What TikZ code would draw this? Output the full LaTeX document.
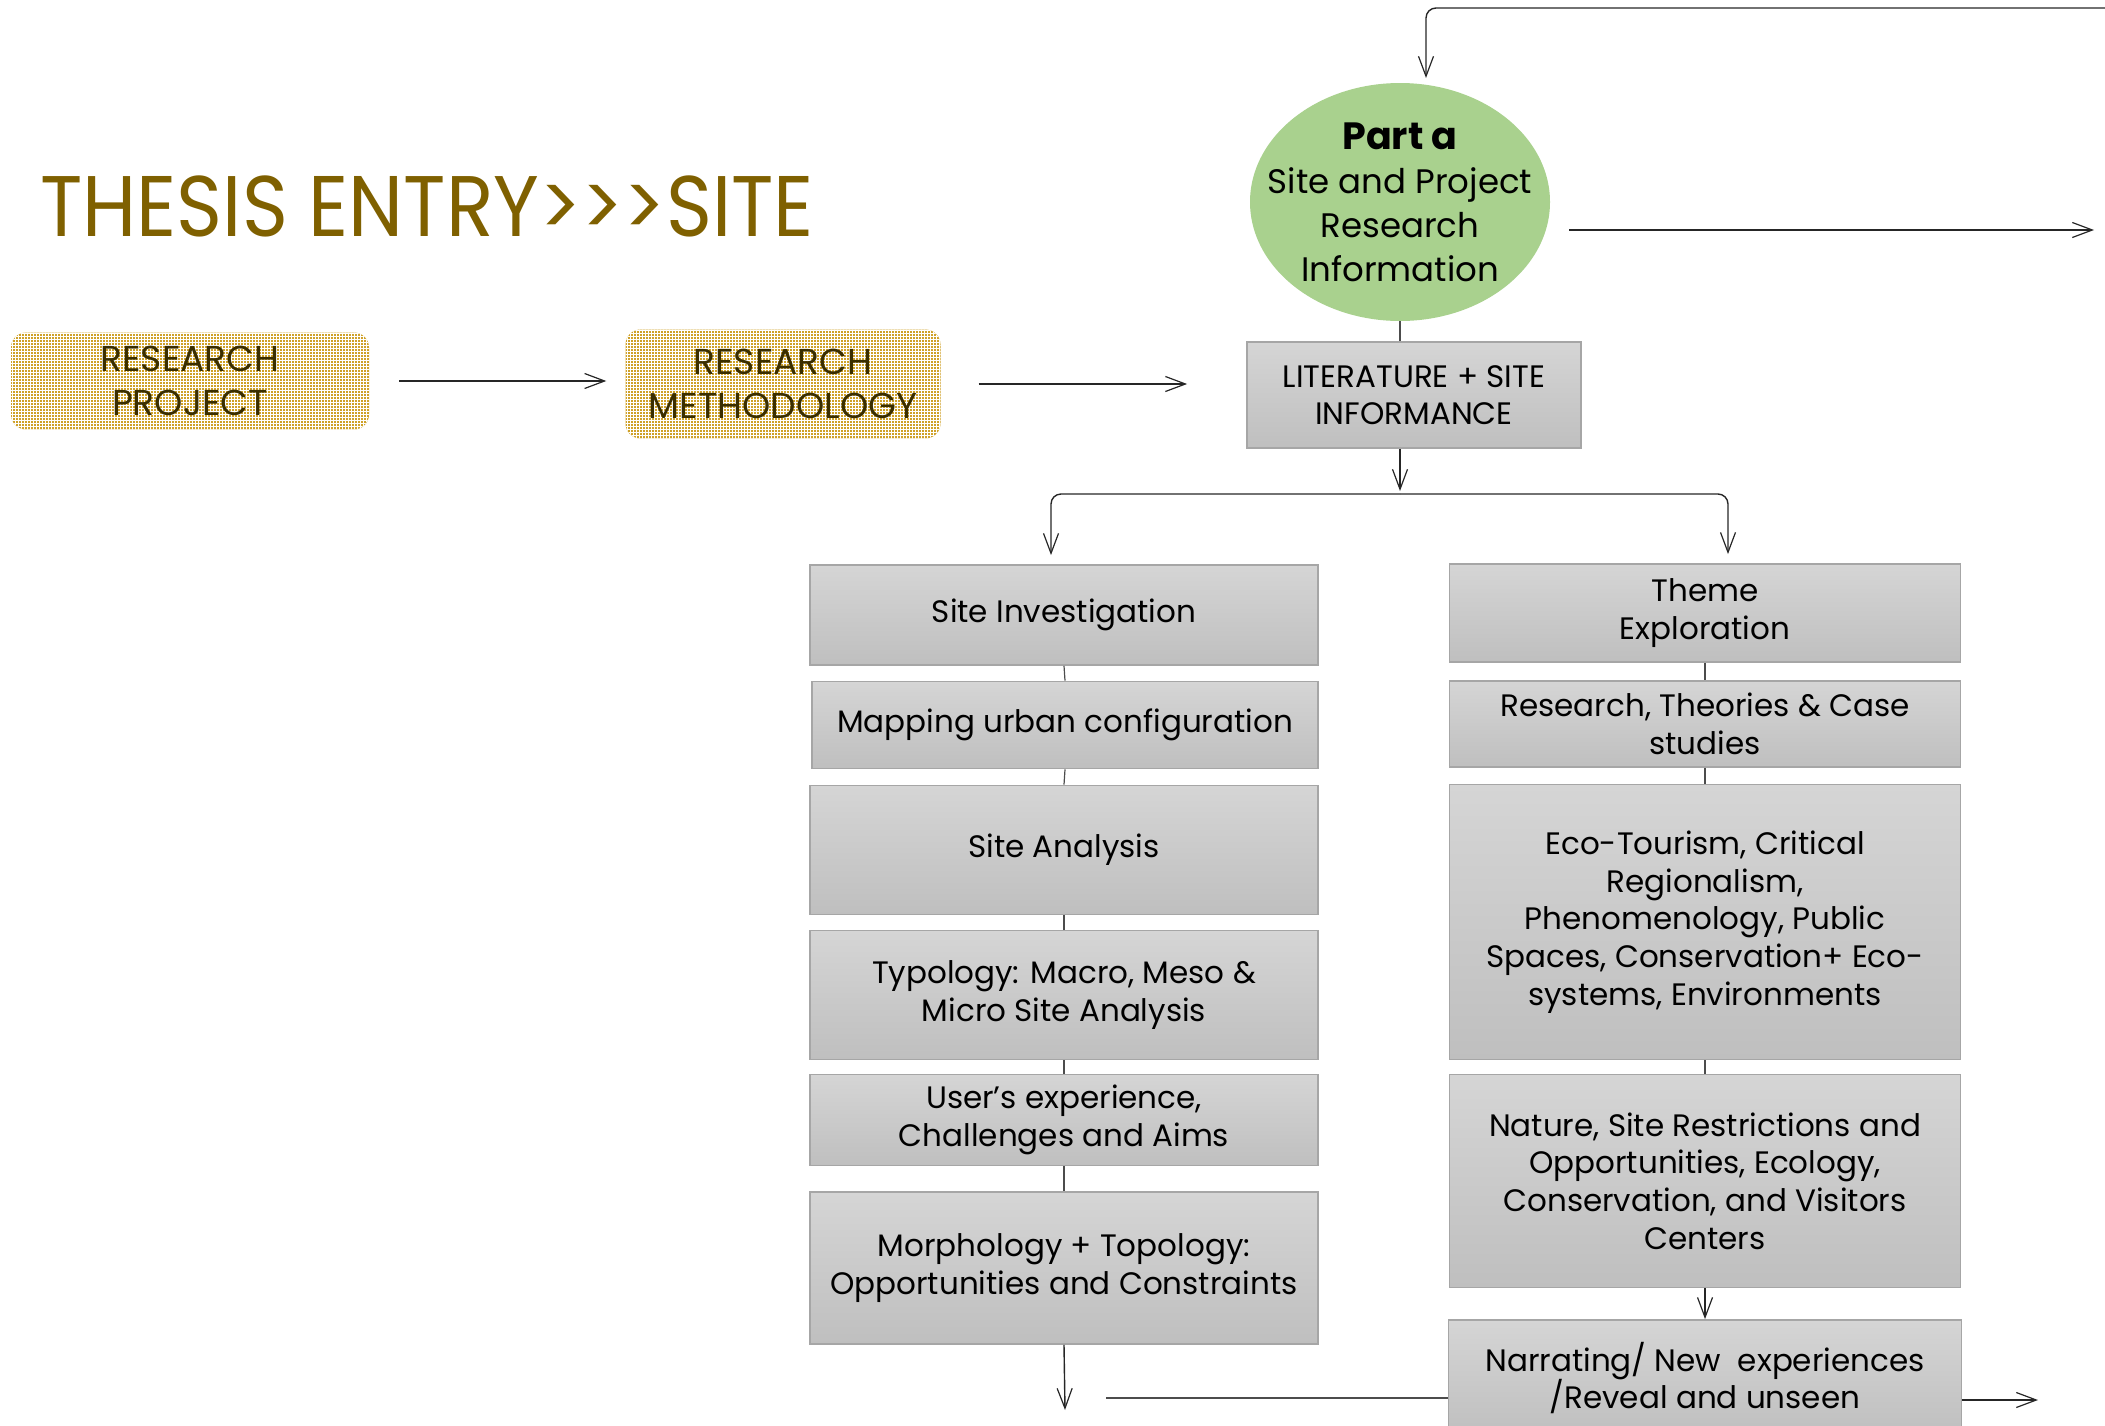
\documentclass[tikz,border=0pt]{standalone}
\usepackage{fontspec}
\setmainfont{Poppins}[Ligatures=TeXOff]
\newfontfamily\titlefont{Poppins}[Ligatures=TeXOff,FakeStretch=0.91]
\usetikzlibrary{arrows.meta,patterns,shapes.geometric}
\definecolor{titlebrown}{HTML}{7F6000}
\definecolor{partgreen}{HTML}{A9D18E}
\definecolor{boxtop}{HTML}{D5D5D5}
\definecolor{boxbot}{HTML}{BFBFBF}
\definecolor{boxline}{HTML}{A6A6A6}
\definecolor{resgold}{HTML}{CFA128}
\definecolor{restext}{HTML}{3A2E00}
\begin{document}
\begin{tikzpicture}[x=1pt,y=-1pt,
  flow/.style={draw=black!85,line width=1.4pt,-{Straight Barb[length=20pt,width=15pt,line width=1.2pt]}},
  link/.style={draw=black!70,line width=1.2pt},
  graybox/.style={draw=boxline,line width=1.8pt,top color=boxtop,bottom color=boxbot,align=center,inner sep=0pt,font=\fontsize{31}{37.6}\selectfont},
  resbox/.style={rounded corners=15pt,preaction={fill=resgold},pattern=grid,pattern color=white,align=center,inner sep=0pt,text=restext,font=\fontsize{36}{44}\selectfont}]
\useasboundingbox (0,0) rectangle (2105,1425);

\node[anchor=base west,inner sep=0pt,text=titlebrown,font=\titlefont\fontsize{86}{94}\selectfont] (title) at (40,236) {THESIS ENTRY>>>SITE};

\node[resbox,minimum width=358,minimum height=97] (rp) at (190,381) {RESEARCH\\PROJECT};
\node[resbox,minimum width=315,minimum height=109] (rm) at (783,384) {RESEARCH\\METHODOLOGY};

\node[ellipse,fill=partgreen,minimum width=300,minimum height=238,inner sep=0pt] (part) at (1400,202) {};
\node[align=center,inner sep=0pt,font=\fontsize{34}{44}\selectfont] (parttext) at (part) {{\bfseries\fontsize{38}{46}\selectfont Part a}\\Site and Project\\Research\\Information};
\node[graybox,minimum width=334,minimum height=106] (lit) at (1414,395) {LITERATURE + SITE\\INFORMANCE};

\node[graybox,minimum width=508,minimum height=100] (site) at (1064,615) {Site Investigation};
\node[graybox,minimum width=506,minimum height=87] (map) at (1065,725) {Mapping urban configuration};
\node[graybox,minimum width=508,minimum height=129] (anal) at (1064,850) {Site Analysis};
\node[graybox,minimum width=508,minimum height=129] (typo) at (1064,995) {Typology: Macro, Meso \&\\Micro Site Analysis};
\node[graybox,minimum width=508,minimum height=91] (user) at (1064,1120) {User’s experience,\\Challenges and Aims};
\node[graybox,minimum width=508,minimum height=152] (morph) at (1064,1268) {Morphology + Topology:\\Opportunities and Constraints};

\node[graybox,minimum width=511,minimum height=98] (theme) at (1705,613) {Theme\\Exploration};
\node[graybox,minimum width=511,minimum height=86] (resth) at (1705,724) {Research, Theories \& Case\\studies};
\node[graybox,minimum width=511,minimum height=275] (eco) at (1705,922) {Eco-Tourism, Critical\\Regionalism,\\Phenomenology, Public\\Spaces, Conservation+ Eco-\\systems, Environments};
\node[graybox,minimum width=511,minimum height=213] (nat) at (1705,1181) {Nature, Site Restrictions and\\Opportunities, Ecology,\\Conservation, and Visitors\\Centers};
\node[graybox,minimum width=513,minimum height=116] (narr) at (1705,1378) {Narrating/ New\ \ experiences\\/Reveal and unseen};

\coordinate (topin) at (2105,8);
\coordinate (partin) at (1426,78);
\coordinate (partout) at (2094,230);
\coordinate (split) at (1400,494);
\coordinate (splitl) at (1051,494);
\coordinate (splitr) at (1728,494);
\coordinate (leftout) at (1065,1410);
\coordinate (narrl) at (1106,1398);
\coordinate (narrout) at (2038,1400);

\draw[flow,shorten <=30,shorten >=19] (rp.east) -- (rp.east -| rm.west);
\draw[flow,shorten <=38,shorten >=59] (rm.east) -- (rm.east -| lit.west);
\draw[flow,rounded corners=10] (topin) -| (partin);
\draw[flow,shorten <=19] (part.east |- partout) -- (partout);
\draw[link] (part.south) -- (part.south |- lit.north);
\draw[flow,shorten >=3] (part.south |- lit.south) -- (split);
\draw[flow,rounded corners=10,shorten >=9] (split) -| (splitl |- site.north);
\draw[flow,rounded corners=10,shorten >=9] (split) -| (splitr |- theme.north);

\draw[link] (site.south) -- (map.north);
\draw[link] (map.south) -- (anal.north);
\draw[link] (anal.south) -- (typo.north);
\draw[link] (typo.south) -- (user.north);
\draw[link] (user.south) -- (morph.north);
\draw[flow] (morph.south) -- (leftout);

\draw[link] (theme.south) -- (resth.north);
\draw[link] (resth.south) -- (eco.north);
\draw[link] (eco.south) -- (nat.north);
\draw[flow] (nat.south) -- (narr.north);
\draw[link] (narr.west |- narrl) -- (narrl);
\draw[flow] (narr.east |- narrout) -- (narrout);
\end{tikzpicture}
\end{document}
